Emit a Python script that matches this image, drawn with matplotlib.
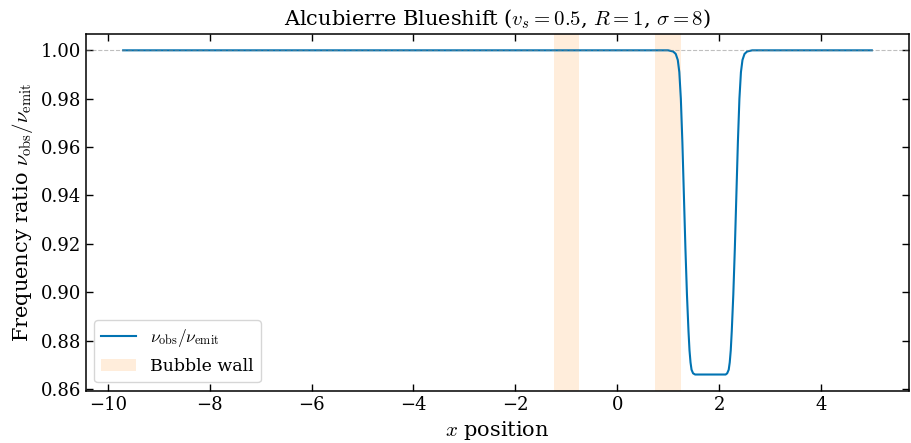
import matplotlib
matplotlib.use('Agg')
import matplotlib.pyplot as plt
import numpy as np

plt.rcParams['font.family'] = 'DejaVu Serif'
plt.rcParams['mathtext.fontset'] = 'cm'

# Frequency ratio along the line of sight (sampled points of the profile)
x_pos = [-9.7, 1.00, 1.10, 1.15, 1.19, 1.22, 1.25, 1.28, 1.31, 1.34, 1.37,
         1.40, 1.42, 1.44, 1.46, 1.49, 1.53, 2.13, 2.16, 2.19, 2.21, 2.23,
         2.25, 2.28, 2.31, 2.34, 2.37, 2.40, 2.43, 2.46, 2.50, 2.55, 2.65, 5.0]
ratio = [1.0, 1.0, 0.9995, 0.9985, 0.996, 0.991, 0.980, 0.962, 0.940, 0.918, 0.899,
         0.884, 0.876, 0.871, 0.868, 0.8665, 0.866, 0.866, 0.8665, 0.868, 0.871, 0.876,
         0.884, 0.899, 0.918, 0.940, 0.962, 0.980, 0.991, 0.996, 0.9985, 0.9995, 1.0, 1.0]

# Bubble wall intervals (x start, x end)
wall_left = [-1.25, 0.75]
wall_right = [-0.75, 1.25]

line_color = '#0173b2'
wall_color = '#ff8c0e'

fig, ax = plt.subplots(figsize=(9.12, 4.43), dpi=100)
fig.subplots_adjust(left=0.094, right=0.997, top=0.923, bottom=0.118)

ax.plot(x_pos, ratio, color=line_color, linewidth=1.5,
        label=r'$\nu_{\rm obs}/\nu_{\rm emit}$')
for i, (a, b) in enumerate(zip(wall_left, wall_right)):
    ax.axvspan(a, b, color=wall_color, alpha=0.15, linewidth=0,
               label='Bubble wall' if i == 0 else None)
ax.axhline(1.0, color='gray', linestyle='--', linewidth=0.8, alpha=0.5)

ax.set_title(r'Alcubierre Blueshift ($v_s=0.5$, $R=1$, $\sigma=8$)', fontsize=15)
ax.set_xlabel(r'$x$ position', fontsize=15)
ax.set_ylabel(r'Frequency ratio $\nu_{\rm obs}/\nu_{\rm emit}$', fontsize=15)

ax.set_xticks(np.arange(-10, 5, 2))
ax.set_yticks(np.arange(0.86, 1.001, 0.02))
ax.tick_params(direction='in', top=True, right=True, labelsize=13, length=5, width=1)
for s in ax.spines.values():
    s.set_linewidth(1.1)

ax.legend(loc='lower left', fontsize=12.5, framealpha=0.8)

plt.savefig('out.png', dpi=100)
